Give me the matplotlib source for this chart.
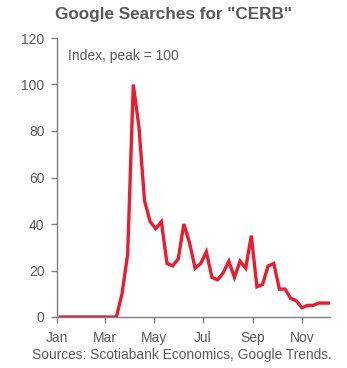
import numpy as np
import pandas as pd
import matplotlib
matplotlib.use("Agg")
import matplotlib.pyplot as plt
import matplotlib.dates as mdates

# weekly google trends index, 2020 (sunday week starts)
week_start = "2020-01-05"
searches = [0, 0, 0, 0, 0, 0, 0, 0, 0, 0, 0,
            10, 27, 100, 82, 50, 41, 38, 41, 23, 22, 25,
            40, 32, 21, 23, 28, 17, 16, 19, 24, 17, 24, 21,
            35, 13, 14, 22, 23, 12, 12, 8, 7, 4, 5, 5,
            6, 6, 6]
y_ticks = [0, 20, 40, 60, 80, 100, 120]
month_labels = ["Jan", "Mar", "May", "Jul", "Sep", "Nov"]

dates = pd.date_range(week_start, periods=len(searches), freq="7D")

plt.rcParams['font.family'] = ['Liberation Sans', 'DejaVu Sans']
grey = "#595959"
axis_grey = "#808080"

fig = plt.figure(figsize=(3.47, 3.68), dpi=100)
ax = fig.add_axes([57/347, 1 - 317/368, (330-57)/347, (317-38)/368])

ax.plot(dates, searches, color="#EC1B2E", lw=2.4, solid_joinstyle="miter")

ax.set_ylim(0, 120)
ax.set_yticks(y_ticks)
ax.set_xlim(pd.Timestamp("2020-01-01"), dates[-1])
month_ticks = pd.date_range("2020-01-01", periods=6, freq="2MS")
ax.set_xticks(month_ticks)
ax.set_xticklabels(month_labels)

for side in ["top", "right"]:
    ax.spines[side].set_visible(False)
for side in ["left", "bottom"]:
    ax.spines[side].set_color(axis_grey)
    ax.spines[side].set_linewidth(1.0)
ax.tick_params(axis="both", colors=axis_grey, labelcolor=grey,
               labelsize=10, length=4, width=1.0, direction="out")
ax.tick_params(axis="x", pad=6)
ax.tick_params(axis="y", pad=5)

ax.text(0.04, 0.935, "Index, peak = 100", transform=ax.transAxes,
        fontsize=10, color=grey, va="center", ha="left")

fig.text(0.5, 1 - 14/368, 'Google Searches for "CERB"', ha="center",
         va="center", fontsize=12.3, fontweight="bold", color=grey)
fig.text(332/347, 1 - 355/368, "Sources: Scotiabank Economics, Google Trends.",
         ha="right", va="center", fontsize=9.9, color=grey)

fig.savefig("out.png", dpi=100)
